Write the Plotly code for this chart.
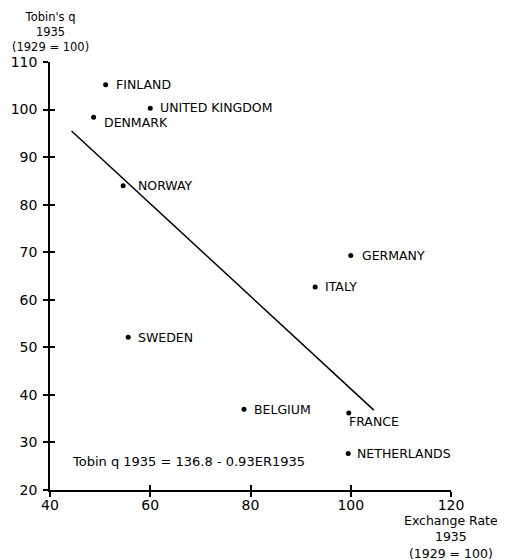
import plotly.graph_objects as go

countries = ["FINLAND", "UNITED KINGDOM", "DENMARK", "NORWAY", "GERMANY", "ITALY",
             "SWEDEN", "BELGIUM", "FRANCE", "NETHERLANDS"]
exchange_rate = [51.1, 60.0, 48.7, 54.6, 100.0, 92.9, 55.6, 78.7, 99.6, 99.5]
tobin_q = [105.2, 100.3, 98.4, 84.0, 69.3, 62.7, 52.1, 37.0, 36.2, 27.7]

# fitted line as drawn: Tobin q 1935 = 136.8 - 0.93 ER1935
fit_x = [44.3, 104.6]
fit_y = [95.5, 36.8]

x_ticks = [40, 60, 80, 100, 120]
y_ticks = [20, 30, 40, 50, 60, 70, 80, 90, 100, 110]

FONT = "DejaVu Sans"

fig = go.Figure()
fig.add_trace(go.Scatter(x=fit_x, y=fit_y, mode="lines",
                         line=dict(color="black", width=1.5), showlegend=False))
fig.add_trace(go.Scatter(x=exchange_rate, y=tobin_q, mode="markers",
                         marker=dict(color="black", size=5), showlegend=False))

label_shift = {"FINLAND": (8, 0), "UNITED KINGDOM": (8, 1), "DENMARK": (8, -5.5),
               "NORWAY": (13, 0.5), "GERMANY": (9, 0), "ITALY": (8, 0),
               "SWEDEN": (8, 0), "BELGIUM": (8, 0), "FRANCE": (-2, -9),
               "NETHERLANDS": (7, 0)}
for c, xv, yv in zip(countries, exchange_rate, tobin_q):
    dx, dy = label_shift[c]
    fig.add_annotation(x=xv, y=yv, text=c, showarrow=False, xanchor="left",
                       yanchor="middle", xshift=dx, yshift=dy,
                       font=dict(family=FONT, size=12.5, color="black"))

fig.add_annotation(x=44.0, y=26.0, text="Tobin q 1935 = 136.8 - 0.93ER1935",
                   showarrow=False, xanchor="left", yanchor="middle",
                   font=dict(family=FONT, size=13, color="black"))

fig.add_annotation(xref="paper", yref="paper", x=0.0, y=1.0, yshift=6,
                   text="Tobin's q<br>1935<br>(1929 = 100)", showarrow=False,
                   xanchor="center", yanchor="bottom", align="center",
                   font=dict(family=FONT, size=11.5, color="black"))

fig.add_annotation(xref="paper", yref="paper", x=0.9995, y=0, yshift=-21,
                   text="Exchange Rate<br>1935<br>(1929 = 100)", showarrow=False,
                   xanchor="center", yanchor="top", align="center",
                   font=dict(family=FONT, size=12.5, color="black"))

axis_common = dict(showgrid=False, zeroline=False, showline=True, linecolor="black",
                   linewidth=1.5, ticks="outside", ticklen=5, tickwidth=1.5,
                   tickcolor="black", automargin=False,
                   tickfont=dict(family=FONT, size=14, color="black"))

fig.update_layout(
    width=505, height=560,
    margin=dict(l=42, r=62, t=54, b=78),
    paper_bgcolor="white", plot_bgcolor="white",
    xaxis=dict(range=[40, 120], tickvals=x_ticks, ticklabelstandoff=-4, **axis_common),
    yaxis=dict(range=[20, 110], tickvals=y_ticks, ticklabelstandoff=3, **axis_common),
    xaxis2=dict(range=[40, 120], tickvals=x_ticks, overlaying="x", side="bottom",
                showgrid=False, zeroline=False, showline=False, ticks="inside",
                ticklen=5, tickwidth=1.5, tickcolor="black", showticklabels=False),
    yaxis2=dict(range=[20, 110], tickvals=y_ticks, overlaying="y", side="left",
                showgrid=False, zeroline=False, showline=False, ticks="inside",
                ticklen=5, tickwidth=1.5, tickcolor="black", showticklabels=False),
)
fig.add_trace(go.Scatter(x=[None], y=[None], xaxis="x2", yaxis="y2", showlegend=False))

fig.write_html("out.html")
